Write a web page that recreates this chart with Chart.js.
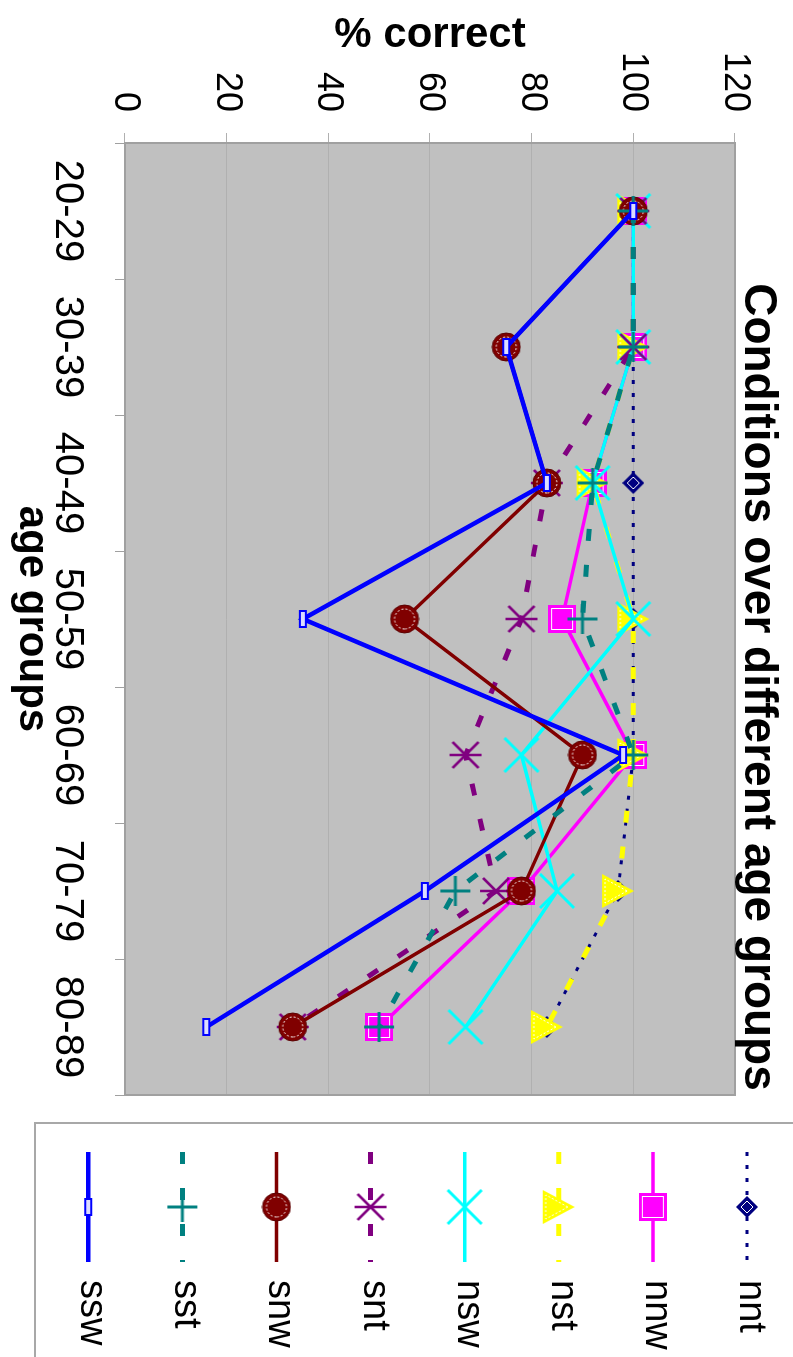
<!DOCTYPE html>
<html>
<head>
<meta charset="utf-8">
<script src="https://cdn.jsdelivr.net/npm/chart.js@4.4.0/dist/chart.umd.min.js"></script>
<style>
  html, body { margin: 0; padding: 0; background: #fff; overflow: hidden; }
  /* chart is drawn landscape and turned a quarter clockwise */
  #wrap { position: absolute; left: 0; top: 0; width: 1357px; height: 793px;
          transform-origin: 0 0; transform: translate(793px, 0) rotate(90deg); }
</style>
</head>
<body>
<div id="wrap"><canvas id="chart" width="1357" height="793" style="width:1357px;height:793px"></canvas></div>
<script>
const ageGroups = ['20-29', '30-39', '40-49', '50-59', '60-69', '70-79', '80-89'];

const ssw = [100, 75, 83, 35, 98, 59, 16];
const sst = [100, 100, 92, 90, 100, 65, 50];
const snw = [100, 75, 83, 55, 90, 78, 33];
const snt = [100, 100, 83, 78, 67, 73, 33];
const nsw = [100, 100, 92, 100, 78, 85, 67];
const nst = [100, 100, 92, 100, 100, 97, 83];
const nnw = [100, 100, 92, 86, 100, 78, 50];
const nnt = [100, 100, 100, 100, 100, 97, 83];

const FONT = "'Liberation Sans', Arial, sans-serif";
Chart.defaults.font.family = FONT;
Chart.defaults.color = '#000';

// little canvases used as Excel-like markers
function marker(w, h, draw) {
  const c = document.createElement('canvas');
  c.width = w; c.height = h;
  draw(c.getContext('2d'), w / 2, h / 2);
  return c;
}

const mkSsw = marker(20, 10, (g) => {
  g.fillStyle = '#dcdcff'; g.fillRect(2, 2, 16, 6);
  g.strokeStyle = '#0000ff'; g.lineWidth = 2; g.strokeRect(2, 2, 16, 6);
});
const mkSst = marker(32, 32, (g, cx, cy) => {
  g.strokeStyle = '#008080'; g.lineWidth = 3;
  g.beginPath(); g.moveTo(1, cy); g.lineTo(31, cy); g.moveTo(cx, 1); g.lineTo(cx, 31); g.stroke();
});
const mkSnw = marker(30, 30, (g, cx, cy) => {
  g.fillStyle = '#800000'; g.beginPath(); g.arc(cx, cy, 14, 0, Math.PI * 2); g.fill();
  g.strokeStyle = '#5a0000'; g.lineWidth = 1; g.stroke();
  g.strokeStyle = '#ffffff'; g.setLineDash([2, 2]);
  g.beginPath(); g.arc(cx, cy, 10, 0, Math.PI * 2); g.stroke();
});
const mkSnt = marker(34, 34, (g, cx, cy) => {
  g.strokeStyle = '#800080'; g.lineWidth = 2.5;
  g.beginPath();
  g.moveTo(4, 4); g.lineTo(30, 30); g.moveTo(30, 4); g.lineTo(4, 30);
  g.moveTo(cx, 1); g.lineTo(cx, 33);
  g.stroke();
});
const mkNsw = marker(38, 38, (g) => {
  g.strokeStyle = '#00ffff'; g.lineWidth = 3;
  g.beginPath(); g.moveTo(2, 2); g.lineTo(36, 36); g.moveTo(36, 2); g.lineTo(2, 36); g.stroke();
});
const mkNst = marker(36, 34, (g) => {
  g.fillStyle = '#ffff00';
  g.beginPath(); g.moveTo(18, 1); g.lineTo(35, 33); g.lineTo(1, 33); g.closePath(); g.fill();
  g.strokeStyle = '#ffffff'; g.lineWidth = 1; g.setLineDash([2, 2]);
  g.beginPath(); g.moveTo(18, 8); g.lineTo(30, 30); g.lineTo(6, 30); g.closePath(); g.stroke();
});
const mkNnw = marker(28, 28, (g) => {
  g.fillStyle = '#ff00ff'; g.fillRect(0, 0, 28, 28);
  g.strokeStyle = '#ffffff'; g.lineWidth = 1; g.strokeRect(3.5, 3.5, 21, 21);
});
const mkNnt = marker(22, 22, (g, cx, cy) => {
  g.fillStyle = '#000080';
  g.beginPath(); g.moveTo(cx, 0); g.lineTo(22, cy); g.lineTo(cx, 22); g.lineTo(0, cy); g.closePath(); g.fill();
  g.strokeStyle = '#ffffff'; g.lineWidth = 1;
  g.beginPath(); g.moveTo(cx, 5); g.lineTo(17, cy); g.lineTo(cx, 17); g.lineTo(5, cy); g.closePath(); g.stroke();
});

function series(label, data, color, width, dash, pt) {
  return {
    label, data,
    borderColor: color, backgroundColor: color,
    borderWidth: width, borderDash: dash,
    pointStyle: pt, pointRadius: 8,
    tension: 0, fill: false
  };
}

// first dataset is painted on top, as ssw is in the picture
const datasets = [
  series('ssw', ssw, '#0000ff', 4.5, [], mkSsw),
  series('sst', sst, '#008080', 5, [12, 24], mkSst),
  series('snw', snw, '#800000', 3.5, [], mkSnw),
  series('snt', snt, '#800080', 5, [12, 24], mkSnt),
  series('nsw', nsw, '#00ffff', 3.5, [], mkNsw),
  series('nst', nst, '#ffff00', 5, [12, 24], mkNst),
  series('nnw', nnw, '#ff00ff', 3.5, [], mkNnw),
  series('nnt', nnt, '#000080', 3, [4, 9], mkNnt)
];

const decor = {
  id: 'decor',
  beforeDraw(chart) {
    const { ctx, chartArea: a } = chart;
    ctx.save();
    ctx.fillStyle = '#c0c0c0';
    ctx.fillRect(a.left, a.top, a.right - a.left, a.bottom - a.top);
    ctx.restore();
  },
  beforeDatasetsDraw(chart) {
    const { ctx, chartArea: a } = chart;
    ctx.save();
    ctx.strokeStyle = '#a0a0a0'; ctx.lineWidth = 2;
    ctx.beginPath();
    ctx.moveTo(a.left, a.top); ctx.lineTo(a.right, a.top); ctx.lineTo(a.right, a.bottom);
    ctx.stroke();
    ctx.restore();
  },
  afterDraw(chart) {
    const ctx = chart.ctx;
    ctx.save();
    // title
    ctx.fillStyle = '#000';
    ctx.font = 'bold 46px ' + FONT;
    ctx.textAlign = 'center'; ctx.textBaseline = 'alphabetic';
    ctx.fillText('Conditions over different age groups', 687, 48);

    // legend box
    ctx.strokeStyle = '#a8a8a8'; ctx.lineWidth = 2;
    ctx.strokeRect(1123, -10, 300, 768);

    // legend entries, last dataset first
    const items = chart.data.datasets.slice().reverse();
    ctx.font = '38px ' + FONT;
    ctx.textAlign = 'left';
    items.forEach((ds, i) => {
      const y = 46 + i * 94.1;
      ctx.save();
      ctx.strokeStyle = ds.borderColor;
      ctx.lineWidth = ds.borderWidth;
      ctx.setLineDash(ds.borderDash);
      ctx.beginPath(); ctx.moveTo(1152, y); ctx.lineTo(1262, y); ctx.stroke();
      ctx.restore();
      const m = ds.pointStyle;
      ctx.drawImage(m, 1207 - m.width / 2, y - m.height / 2);
      ctx.fillStyle = '#000';
      ctx.fillText(ds.label, 1280, y + 7);
    });
    ctx.restore();
  }
};

new Chart(document.getElementById('chart'), {
  type: 'line',
  data: { labels: ageGroups, datasets },
  options: {
    responsive: false,
    animation: false,
    devicePixelRatio: 1,
    layout: { padding: { left: 0, top: 58, right: 262, bottom: 0 } },
    plugins: { legend: { display: false }, title: { display: false }, tooltip: { enabled: false } },
    scales: {
      x: {
        type: 'category',
        offset: true,
        afterFit(s) { s.height = 125; },
        grid: { display: true, drawOnChartArea: false, offset: true, tickLength: 10, color: '#a0a0a0' },
        border: { color: '#a0a0a0', width: 2 },
        ticks: { font: { size: 40 }, padding: 24, maxRotation: 0, autoSkip: false, color: '#000' },
        title: { display: true, text: 'age groups', font: { size: 42, weight: 'bold' }, padding: { top: 0, bottom: 6 }, color: '#000' }
      },
      y: {
        min: 0, max: 120,
        afterFit(s) { s.width = 143; },
        grid: { color: '#b0b0b0', lineWidth: 1, tickLength: 10 },
        border: { color: '#a0a0a0', width: 2 },
        ticks: { stepSize: 20, font: { size: 36 }, padding: 21, color: '#000' },
        title: { display: true, text: '% correct', font: { size: 42, weight: 'bold' }, padding: { top: 10, bottom: 0 }, color: '#000' }
      }
    }
  },
  plugins: [decor]
});
</script>
</body>
</html>
